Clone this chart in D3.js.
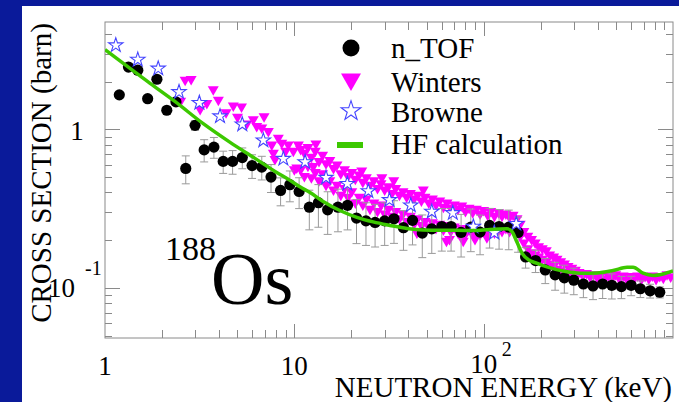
<!DOCTYPE html>
<html>
<head>
<meta charset="utf-8">
<script src="https://cdn.jsdelivr.net/npm/d3@7"></script>
<style>
  html, body { margin: 0; padding: 0; background: #0a1a9a; }
  svg { display: block; }
</style>
</head>
<body>
<svg id="chart" width="679" height="402"></svg>
<script>
// n_TOF points: [energy keV, cross section barn]
var ntof = [
  [1.19,1.65],[1.33,2.47],[1.49,2.36],[1.68,1.56],[1.88,2.07],[2.12,1.32],[2.37,1.49],[2.67,0.567],
  [2.99,1.06],[3.34,0.742],[3.76,0.773],[4.21,0.628],[4.72,0.628],[5.31,0.664],[5.98,0.591],[6.73,0.578],
  [7.53,0.500],[8.46,0.412],[9.47,0.448],[10.6,0.406],[12.0,0.323],[13.4,0.345],[15.0,0.311],[17.0,0.323],
  [19.1,0.332],[21.3,0.276],[23.9,0.265],[26.7,0.259],[30.0,0.265],[33.6,0.273],[37.7,0.240],[42.1,0.267],
  [47.4,0.222],[53.2,0.236],[60.1,0.244],[67.3,0.244],[76.0,0.224],[85.5,0.242],[95.7,0.225],[107.5,0.248],
  [120.6,0.244],[135.7,0.242],[152,0.224],[166.5,0.157],[188,0.149],[211.5,0.130],[238.4,0.121],[266.7,0.116],
  [299.2,0.112],[336.3,0.106],[378,0.103],[425,0.106],[475,0.104],[534,0.102],[601,0.104],[672,0.0989],
  [757,0.0960],[851,0.0941]
];
// relative uncertainty of each n_TOF point
var ntofErr = [
  0.04,0.04,0.04,0.04,0.04,0.05,0.05,0.2,
  0.07,0.16,0.15,0.16,0.17,0.15,0.17,0.17,
  0.2,0.2,0.22,0.22,0.28,0.3,0.3,0.3,
  0.3,0.31,0.3,0.3,0.3,0.3,0.28,0.3,
  0.3,0.3,0.3,0.3,0.3,0.3,0.28,0.28,
  0.28,0.28,0.25,0.15,0.16,0.18,0.2,0.2,
  0.19,0.18,0.18,0.19,0.18,0.16,0.14,0.12,
  0.1,0.08
];

var winters = [
  [2.51,1.49],[2.65,2.02],[2.85,2.04],[3.18,1.32],[3.45,1.44],[3.73,1.76],[3.97,1.51],[4.36,1.26],
  [4.76,1.39],[5.01,1.18],[5.26,1.37],[5.61,1.07],[6.07,1.14],[6.33,1.03],[6.73,1.01],[6.92,1.19],
  [7.29,0.96],[7.60,0.79],[7.75,0.70],[7.9,0.64],[8.23,0.87],[8.58,0.81],[9.0,0.72],[9.29,0.79],
  [9.88,0.72],[10.0,0.55],[10.3,0.565],[10.5,0.79],
  [10.8,0.74],[10.8,0.55],[11.3,0.70],[11.3,0.50],[11.8,0.76],[11.8,0.58],[12.3,0.66],[12.3,0.49],
  [12.9,0.72],[12.9,0.53],[13.5,0.62],[13.5,0.47],[14.1,0.68],[14.1,0.52],[14.7,0.60],[14.7,0.44],
  [15.4,0.63],[15.4,0.47],[16.1,0.56],[16.1,0.41],[16.8,0.59],[16.8,0.44],[17.6,0.52],[17.6,0.38],
  [18.4,0.55],[18.4,0.42],[19.2,0.50],[19.2,0.37],[20.1,0.53],[20.1,0.40],[21.0,0.48],[21.0,0.34],
  [22.0,0.51],[22.0,0.37],[23.0,0.46],[23.0,0.33],[24.0,0.49],[24.0,0.36],[25.1,0.44],[25.1,0.31],
  [26.3,0.47],[26.3,0.34],[27.5,0.42],[27.5,0.30],[28.7,0.45],[28.7,0.33],[30.0,0.41],[30.0,0.29],
  [31.4,0.43],[31.4,0.31],[32.8,0.39],[32.8,0.28],[34.3,0.42],[34.3,0.30],[35.9,0.38],[35.9,0.27],
  [37.5,0.40],[37.5,0.29],[39.2,0.37],[39.2,0.26],[41.0,0.39],[41.0,0.28],[42.9,0.36],[42.9,0.25],
  [44.8,0.38],[44.8,0.27],[46.9,0.35],[46.9,0.245],[49.0,0.37],[49.0,0.26],[51.3,0.34],[51.3,0.24],
  [53.6,0.36],[53.6,0.255],[56.0,0.33],[56.0,0.235],[58.6,0.35],[58.6,0.25],[61.3,0.32],[61.3,0.23],
  [64.0,0.34],[64.0,0.245],[67.0,0.315],[67.0,0.225],[70.0,0.33],[70.0,0.24],[73.2,0.31],[73.2,0.22],
  [76.6,0.325],[76.6,0.235],[80.1,0.30],[80.1,0.215],[83.7,0.315],[83.7,0.23],[87.5,0.295],[87.5,0.215],
  [91.5,0.31],[91.5,0.225],[95.7,0.29],[95.7,0.215],[100,0.305],[100,0.225],[105,0.285],[105,0.22],
  [109,0.30],[109,0.23],[114,0.28],[114,0.22],[120,0.295],[120,0.23],[125,0.28],[125,0.225],
  [131,0.29],[131,0.235],[137,0.275],[137,0.225],[143,0.285],[143,0.23],[150,0.27],[150,0.225],
  [156,0.25],[156,0.21],[163,0.225],[163,0.19],[171,0.21],[171,0.175],[179,0.20],[179,0.165],
  [187,0.19],[187,0.16],[195,0.18],[195,0.155],[204,0.175],[204,0.15],[214,0.17],[214,0.145],
  [223,0.16],[223,0.14],[234,0.155],[234,0.135],[244,0.15],[244,0.13],[255,0.145],[255,0.127],
  [267,0.14],[267,0.124],[279,0.135],[279,0.122],[292,0.132],[292,0.12],[305,0.128],[305,0.118],
  [319,0.124],[334,0.118],[349,0.122],[365,0.116],[381,0.12],[399,0.114],[417,0.119],[436,0.113],
  [456,0.118],[477,0.114],[498,0.12],[521,0.113],[545,0.118],[570,0.112],[596,0.117],[623,0.113],
  [651,0.118],[681,0.112],[712,0.117],[745,0.113],[778,0.118],[814,0.112],[851,0.117],[889,0.114],
  [930,0.12],[972,0.116],
  [13.0,0.80],[22.7,0.54],[29,0.49],[33.5,0.47],[48,0.41],[44.4,0.22],[63.6,0.195],[12.6,0.578],
  [66,0.20],[78,0.195],[90,0.20],[104,0.205]
];

var browne = [
  [1.14,3.39],[1.49,2.75],[1.91,2.42],[2.46,1.72],[3.15,1.47],[4.05,1.21],[5.31,1.075],[6.86,0.852],
  [8.75,0.653],[11.4,0.622],[14.7,0.496],[19.05,0.454],[24.6,0.408],[31.8,0.359],[41.2,0.332],[53.2,0.303],
  [68.7,0.297],[88.2,0.244],[113.8,0.223],[148.6,0.254]
];

var hf = [
  [1,3.18],[1.73,1.95],[2.34,1.50],[3.29,1.09],[4.58,0.828],[6.20,0.656],[7.91,0.543],[9.49,0.477],
  [10.7,0.434],[12.1,0.400],[14.2,0.351],[17.4,0.308],[21.4,0.279],[26.1,0.261],[32.0,0.248],[39.4,0.237],
  [47.9,0.232],[58.9,0.231],[72.4,0.231],[87.9,0.230],[108,0.234],[133,0.236],[141,0.227],[150,0.194],
  [160,0.165],[172,0.151],[192,0.143],[216,0.136],[263,0.128],[323,0.124],[397,0.1245],[483,0.129],
  [572,0.135],[615,0.135],[695,0.124],[785,0.120],[887,0.1226],[1000,0.128]
];

var legendLabels = ["n_TOF", "Winters", "Browne", "HF calculation"];
var xDomain = [1, 1000];
var yDomain = [0.0484, 4.75];

var W = 679, H = 402;
var FONT = "'Liberation Serif','Times New Roman',Times,serif";
var frameCol = "#8a8a8a";
var pL = 105, pR = 673, pT = 22, pB = 338;

var svg = d3.select("#chart");
svg.append("rect").attr("width", W).attr("height", H).attr("fill", "#0a1a9a");
svg.append("rect").attr("x", 22).attr("y", 6).attr("width", W - 22).attr("height", H - 6).attr("fill", "#fff");

var x = d3.scaleLog().domain(xDomain).range([pL, pR]);
var y = d3.scaleLog().domain(yDomain).range([pB, pT]);

var isMajor = function(d) {
  var l = Math.log10(d);
  return Math.abs(l - Math.round(l)) < 1e-9;
};

// frame and ticks
var axes = svg.append("g").attr("stroke", frameCol).attr("stroke-width", 1).attr("fill", "none");
axes.append("rect").attr("x", pL).attr("y", pT).attr("width", pR - pL).attr("height", pB - pT);

x.ticks().forEach(function(d) {
  if (d <= xDomain[0] || d >= xDomain[1]) return;
  var len = isMajor(d) ? 14 : 8;
  var px = Math.round(x(d)) + 0.5;
  axes.append("line").attr("x1", px).attr("x2", px).attr("y1", pB).attr("y2", pB - len);
  axes.append("line").attr("x1", px).attr("x2", px).attr("y1", pT).attr("y2", pT + len);
});
y.ticks().forEach(function(d) {
  var len = isMajor(d) ? 15 : 7;
  var py = Math.round(y(d)) + 0.5;
  axes.append("line").attr("x1", pL).attr("x2", pL + len).attr("y1", py).attr("y2", py);
  axes.append("line").attr("x1", pR).attr("x2", pR - len).attr("y1", py).attr("y2", py);
});

// clip to frame
svg.append("clipPath").attr("id", "plotclip")
  .append("rect").attr("x", pL).attr("y", pT).attr("width", pR - pL).attr("height", pB - pT);
var plot = svg.append("g").attr("clip-path", "url(#plotclip)");

// Winters triangles
var tri = "M-5.5,-4.2L5.5,-4.2L0,5.3Z";
plot.append("g").selectAll("path").data(winters).enter().append("path")
  .attr("d", tri)
  .attr("fill", "#ff00ff")
  .attr("transform", function(d) { return "translate(" + x(d[0]) + "," + y(d[1]) + ")"; });

// n_TOF error bars
var eb = plot.append("g").attr("stroke", "#9a9a9a").attr("stroke-width", 1);
ntof.forEach(function(d, i) {
  var e = ntofErr[i];
  var px = x(d[0]);
  var y1 = y(d[1] * (1 + e)), y2 = y(d[1] * (1 - e));
  eb.append("line").attr("x1", px).attr("x2", px).attr("y1", y1).attr("y2", y2);
  eb.append("line").attr("x1", px - 4).attr("x2", px + 4).attr("y1", y1).attr("y2", y1);
  eb.append("line").attr("x1", px - 4).attr("x2", px + 4).attr("y1", y2).attr("y2", y2);
});

// n_TOF circles
plot.append("g").selectAll("circle").data(ntof).enter().append("circle")
  .attr("cx", function(d) { return x(d[0]); })
  .attr("cy", function(d) { return y(d[1]); })
  .attr("r", 5.6)
  .attr("fill", "#000");

// Browne stars
var star = d3.symbol().type(d3.symbolStar).size(64);
plot.append("g").selectAll("path").data(browne).enter().append("path")
  .attr("d", star)
  .attr("fill", "#fff")
  .attr("stroke", "#4444ff")
  .attr("stroke-width", 1.1)
  .attr("transform", function(d) { return "translate(" + x(d[0]) + "," + y(d[1]) + ")"; });

// HF calculation
var line = d3.line()
  .x(function(d) { return x(d[0]); })
  .y(function(d) { return y(d[1]); })
  .curve(d3.curveMonotoneX);
plot.append("path").datum(hf)
  .attr("d", line)
  .attr("fill", "none")
  .attr("stroke", "#3cc800")
  .attr("stroke-width", 3.5);

// axis labels
var txt = svg.append("g").attr("font-family", FONT).attr("fill", "#000");
txt.append("text").attr("x", x(1)).attr("y", 375).attr("font-size", 27).attr("text-anchor", "middle").text("1");
txt.append("text").attr("x", x(10)).attr("y", 375).attr("font-size", 27).attr("text-anchor", "middle").text("10");
txt.append("text").attr("x", x(100)).attr("y", 373).attr("font-size", 27).attr("text-anchor", "middle").text("10");
txt.append("text").attr("x", x(100) + 23).attr("y", 356).attr("font-size", 20).attr("text-anchor", "middle").text("2");

txt.append("text").attr("x", 77).attr("y", y(1) + 11).attr("font-size", 27).attr("text-anchor", "middle").text("1");
txt.append("text").attr("x", 75).attr("y", y(0.1) + 9).attr("font-size", 27).attr("text-anchor", "end").text("10");
txt.append("text").attr("x", 85).attr("y", y(0.1) - 13).attr("font-size", 20).attr("text-anchor", "start").text("-1");

txt.append("text").attr("x", 672).attr("y", 397).attr("font-size", 29).attr("text-anchor", "end")
  .text("NEUTRON ENERGY (keV)");
txt.append("text").attr("transform", "translate(51,173) rotate(-90)")
  .attr("font-size", 29).attr("text-anchor", "middle").text("CROSS SECTION (barn)");

// isotope label
txt.append("text").attr("x", 165).attr("y", 260).attr("font-size", 34).text("188");
txt.append("text").attr("x", 211).attr("y", 304).attr("font-size", 74).text("Os");

// legend
var lg = svg.append("g");
var lx = 351, ly = [48, 82, 111, 145], tx = 391, ty = [58, 92, 121.5, 154];
lg.append("circle").attr("cx", lx).attr("cy", ly[0]).attr("r", 8.5).attr("fill", "#000");
lg.append("path").attr("d", "M-10,-8.5L10,-8.5L0,9Z").attr("fill", "#ff00ff")
  .attr("transform", "translate(" + lx + "," + ly[1] + ")");
lg.append("path").attr("d", d3.symbol().type(d3.symbolStar).size(120)).attr("fill", "#fff")
  .attr("stroke", "#4444ff").attr("stroke-width", 1.1)
  .attr("transform", "translate(" + lx + "," + ly[2] + ")");
lg.append("line").attr("x1", 337).attr("x2", 363).attr("y1", ly[3]).attr("y2", ly[3])
  .attr("stroke", "#3cc800").attr("stroke-width", 6);
legendLabels.forEach(function(s, i) {
  lg.append("text").attr("x", tx).attr("y", ty[i]).attr("font-family", FONT).attr("font-size", 29).text(s);
});
</script>
</body>
</html>
